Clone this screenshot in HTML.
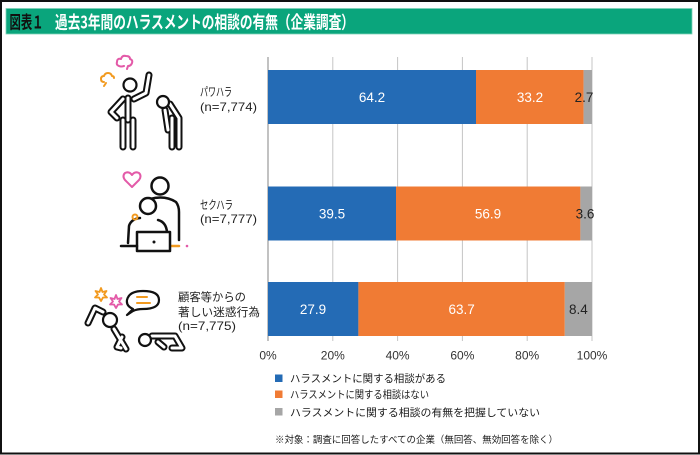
<!DOCTYPE html>
<html><head><meta charset="utf-8"><style>
html,body{margin:0;padding:0;background:#fff;}
svg{display:block;}
text{font-family:"Liberation Sans","Noto Sans CJK JP",sans-serif;}
.jp{font-family:"Noto Sans CJK JP","Liberation Sans",sans-serif;}
</style></head><body>
<svg width="700" height="455" viewBox="0 0 700 455" xmlns="http://www.w3.org/2000/svg">
<rect x="0" y="0" width="700" height="455" fill="#fff"/>
<rect x="1" y="1" width="698" height="452.5" fill="none" stroke="#111" stroke-width="2"/>
<!-- title bar -->
<rect x="6" y="8.5" width="686" height="25.5" fill="#0aa57c"/>
<rect x="6" y="8.5" width="686" height="25.5" fill="none" stroke="#7fd3b8" stroke-width="0.8"/>
<text class="jp" x="9.5" y="28.5" font-size="17.5" font-weight="bold" fill="#111" textLength="34" lengthAdjust="spacingAndGlyphs">図表１</text>
<text class="jp" x="55" y="28.5" font-size="17.5" font-weight="bold" fill="#fff" textLength="299" lengthAdjust="spacingAndGlyphs">過去3年間のハラスメントの相談の有無（企業調査）</text>

<!-- gridlines -->
<g stroke="#c4c4c4" stroke-width="1">
<line x1="332.8" y1="57" x2="332.8" y2="341"/>
<line x1="397.6" y1="57" x2="397.6" y2="341"/>
<line x1="462.4" y1="57" x2="462.4" y2="341"/>
<line x1="527.2" y1="57" x2="527.2" y2="341"/>
<line x1="592" y1="57" x2="592" y2="341"/>
</g>
<line x1="268" y1="57" x2="268" y2="341" stroke="#9a9a9a" stroke-width="1.2"/>

<!-- bars -->
<g>
<rect x="268" y="70" width="208" height="54" fill="#246bb5"/>
<rect x="476" y="70" width="107.6" height="54" fill="#f07b34"/>
<rect x="583.6" y="70" width="8.4" height="54" fill="#a6a6a6"/>

<rect x="268" y="186.5" width="128" height="54" fill="#246bb5"/>
<rect x="396" y="186.5" width="184.4" height="54" fill="#f07b34"/>
<rect x="580.4" y="186.5" width="11.6" height="54" fill="#a6a6a6"/>

<rect x="268" y="282" width="90.4" height="54" fill="#246bb5"/>
<rect x="358.4" y="282" width="206.4" height="54" fill="#f07b34"/>
<rect x="564.8" y="282" width="27.2" height="54" fill="#a6a6a6"/>
</g>
<g font-size="13.5" text-anchor="middle" fill="#fff">
<text x="372" y="102">64.2</text>
<text x="530" y="102">33.2</text>
<text x="584" y="102" fill="#222">2.7</text>
<text x="332" y="218.5">39.5</text>
<text x="488" y="218.5">56.9</text>
<text x="585" y="218.5" fill="#222">3.6</text>
<text x="313" y="314">27.9</text>
<text x="461.6" y="314">63.7</text>
<text x="578.4" y="314" fill="#222">8.4</text>
</g>

<!-- tick labels -->
<g font-size="12" text-anchor="middle" fill="#333">
<text x="268" y="359.5">0%</text>
<text x="332.8" y="359.5">20%</text>
<text x="397.6" y="359.5">40%</text>
<text x="462.4" y="359.5">60%</text>
<text x="527.2" y="359.5">80%</text>
<text x="592" y="359.5">100%</text>
</g>

<!-- category labels -->
<g fill="#222" font-size="12">
<text class="jp" x="200" y="96" textLength="32" lengthAdjust="spacingAndGlyphs">パワハラ</text>
<text x="200" y="111" textLength="57" lengthAdjust="spacingAndGlyphs">(n=7,774)</text>
<text class="jp" x="200" y="209" textLength="33" lengthAdjust="spacingAndGlyphs">セクハラ</text>
<text x="200" y="223" textLength="57" lengthAdjust="spacingAndGlyphs">(n=7,777)</text>
<text class="jp" x="178" y="301" font-size="11.5" textLength="68" lengthAdjust="spacingAndGlyphs">顧客等からの</text>
<text class="jp" x="178" y="316" font-size="11.5" textLength="82" lengthAdjust="spacingAndGlyphs">著しい迷惑行為</text>
<text x="178" y="330" textLength="58" lengthAdjust="spacingAndGlyphs">(n=7,775)</text>
</g>

<!-- legend -->
<rect x="275" y="374.5" width="7.5" height="7.5" fill="#246bb5"/>
<rect x="275" y="390.5" width="7.5" height="7.5" fill="#f07b34"/>
<rect x="275" y="408" width="7.5" height="7.5" fill="#a6a6a6"/>
<g fill="#1a1a1a" font-size="10.5">
<text class="jp" x="290" y="382" textLength="156" lengthAdjust="spacingAndGlyphs">ハラスメントに関する相談がある</text>
<text class="jp" x="290" y="398" textLength="139" lengthAdjust="spacingAndGlyphs">ハラスメントに関する相談はない</text>
<text class="jp" x="290" y="416" textLength="250" lengthAdjust="spacingAndGlyphs">ハラスメントに関する相談の有無を把握していない</text>
<text class="jp" x="275" y="443" font-size="9.5" textLength="283" lengthAdjust="spacingAndGlyphs">※対象：調査に回答したすべての企業（無回答、無効回答を除く）</text>
</g>

<!-- icon 1: power harassment -->
<g fill="none" stroke-linecap="round" stroke-linejoin="round">
  <path d="M119,66 q-3,-1 -2,-4 q0,-4 4,-3 q1,-4 5,-3 q4,0 4,3 q3,1 2,4 q-1,3 -4,3 l-1,3 m-3,-3 q-3,1 -5,0" stroke="#e35aa8" stroke-width="2"/>
  <path d="M104,82 q-3,0 -3,-3 q0,-3 3,-3 q1,-3 4,-3 q3,0 4,3 q2,0 2,2 m-8,5 l-2,3" stroke="#f29a1f" stroke-width="2"/>
  <g stroke="#111" stroke-width="7">
    <path d="M128,98 L128,120 M123,120 L123,147 M133,120 L133,147 M134,99 L146,93 L149,75 M123,99 L111,112 L117,118"/>
    <path d="M170,104 L179,118 L179,147 M172,118 L172,147 M165,110 L168,130"/>
  </g>
  <g stroke="#fff" stroke-width="3">
    <path d="M128,98 L128,120 M123,120 L123,147 M133,120 L133,147 M134,99 L146,93 L149,75 M123,99 L111,112 L117,118"/>
    <path d="M170,104 L179,118 L179,147 M172,118 L172,147 M165,110 L168,130"/>
  </g>
  <circle cx="130" cy="85" r="6.5" fill="#fff" stroke="#111" stroke-width="2.2"/>
  <circle cx="163" cy="102" r="6" fill="#fff" stroke="#111" stroke-width="2.2"/>
</g>

<!-- icon 2: sexual harassment -->
<g fill="none" stroke-linecap="round" stroke-linejoin="round">
  <path d="M132,187 L125,180 Q122,176 125,173 Q129,171 132,175 Q135,171 139,173 Q142,176 139,180 Z" stroke="#e35aa8" stroke-width="2"/>
  <circle cx="160" cy="186" r="8.5" stroke="#111" stroke-width="2.5" fill="#fff"/>
  <path d="M150,199 Q165,195 176,202 Q179,206 179,212 L179,240" stroke="#111" stroke-width="2.5"/>
  <path d="M170,246 L179,246" stroke="#f29a1f" stroke-width="2.5"/>
  <circle cx="187" cy="246" r="1.3" fill="#e35aa8"/>
  <circle cx="148" cy="206" r="8" stroke="#111" stroke-width="2.5" fill="#fff"/>
  <path d="M128,243 L129,226 Q131,219 140,218 M158,220 Q166,222 167,232" stroke="#111" stroke-width="2.5"/>
  <circle cx="135" cy="217" r="2.5" stroke="#f29a1f" stroke-width="2"/>
  <rect x="137" y="232" width="33" height="19" stroke="#111" stroke-width="2.5" fill="#fff"/>
  <circle cx="154" cy="242" r="1.5" fill="#111"/>
  <path d="M121,246 L137,246" stroke="#111" stroke-width="2.5"/>
</g>

<!-- icon 3: customer harassment -->
<g fill="none" stroke-linecap="round" stroke-linejoin="round">
  <path d="M101,288 L102.5,292 L106.5,291 L104,294.5 L107,297.5 L103,297.5 L101,301 L99,297.5 L95,297.5 L98,294.5 L95.5,291 L99.5,292 Z" stroke="#f29a1f" stroke-width="1.8"/>
  <path d="M116,295 L117.5,299 L121.5,298 L119,301.5 L122,304.5 L118,304.5 L116,308 L114,304.5 L110,304.5 L113,301.5 L110.5,298 L114.5,299 Z" stroke="#e35aa8" stroke-width="1.8"/>
  <path d="M133,309 Q126,306 127,300 Q129,291 143,291 Q159,291 159,300 Q159,309 143,309 Q137,309 133,311 L127,315 Z" stroke="#111" stroke-width="2.2" fill="#fff"/>
  <path d="M137,297 L147,297 M137,303 L150,303" stroke="#f29a1f" stroke-width="2"/>
  <g stroke="#111" stroke-width="7">
    <path d="M88,323 L95,308 L103,312 M114,329 L126,349 M122,337 L117,347 L121,348 M152,336 L175,336 L182,348 L172,348 M158,342 L164,347"/>
  </g>
  <g stroke="#fff" stroke-width="3">
    <path d="M88,323 L95,308 L103,312 M114,329 L126,349 M122,337 L117,347 L121,348 M152,336 L175,336 L182,348 L172,348 M158,342 L164,347"/>
  </g>
  <circle cx="110" cy="320" r="7" fill="#fff" stroke="#111" stroke-width="2.2"/>
  <circle cx="145" cy="340" r="6" fill="#fff" stroke="#111" stroke-width="2.2"/>
</g>
</svg>
</body></html>
